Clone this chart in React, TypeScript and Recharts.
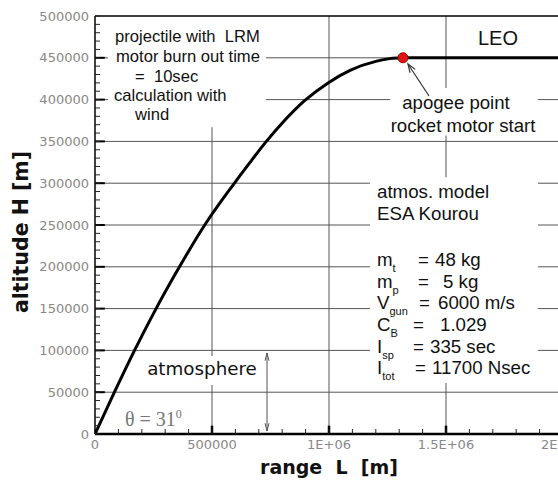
import React from "react";
import {
    LineChart,
    Line,
    XAxis,
    YAxis,
    CartesianGrid,
    ReferenceArea,
    ReferenceLine,
    ReferenceDot,
} from "recharts";

// trajectory: range L [m] vs altitude H [m]
const rangeL = [0, 83000, 169000, 261000, 361000, 469000, 589000, 660000, 728000, 810000, 897000, 996000, 1090000, 1204000, 1260000, 1316000];
const altitudeH = [0, 50000, 100000, 150000, 200000, 250000, 297500, 324000, 348500, 375000, 399000, 420000, 435000, 446000, 449000, 450000];

// LEO branch after the apogee
const leoL = [1316000, 2000000];
const leoH = [450000, 450000];

const apogee = { L: 1316000, H: 450000 };

const xMajor = [0, 500000, 1000000, 1500000, 2000000];
const xMajorLabels = ["0", "500000", "1E+06", "1.5E+06", "2E+06"];
const yMajor = [0, 50000, 100000, 150000, 200000, 250000, 300000, 350000, 400000, 450000, 500000];
const yMajorLabels = ["0", "50000", "100000", "150000", "200000", "250000", "300000", "350000", "400000", "450000", "500000"];

const xMinor = Array.from({ length: 21 }, (_, i) => i * 100000);
const yMinor = Array.from({ length: 51 }, (_, i) => i * 10000);

const trajectory = rangeL.map((L, i) => ({ L, H: altitudeH[i] }));
const leo = leoL.map((L, i) => ({ L, H: leoH[i] }));

const sans = "'Liberation Sans', Arial, sans-serif";
const dejavu = "'DejaVu Sans', sans-serif";

function xLabel(v: number) {
    const i = xMajor.indexOf(v);
    return i >= 0 ? xMajorLabels[i] : "";
}
function yLabel(v: number) {
    const i = yMajor.indexOf(v);
    return i >= 0 ? yMajorLabels[i] : "";
}

function T({ x, y, size, anchor = "start", font = sans, color = "#111", children, style }: any) {
    const lh = size * 1.2;
    return (
        <div
            style={{
                position: "absolute",
                left: x,
                top: y - lh / 2,
                fontSize: size,
                lineHeight: `${lh}px`,
                fontFamily: font,
                color,
                whiteSpace: "pre",
                transform: anchor === "middle" ? "translateX(-50%)" : undefined,
                ...style,
            }}
        >
            {children}
        </div>
    );
}

function arrowHead(hx: number, hy: number, tx: number, ty: number, len: number, spread: number) {
    const a = Math.atan2(ty - hy, tx - hx);
    const p1 = [hx + len * Math.cos(a + spread), hy + len * Math.sin(a + spread)];
    const p2 = [hx + len * Math.cos(a - spread), hy + len * Math.sin(a - spread)];
    return `M${p1[0]},${p1[1]} L${hx},${hy} L${p2[0]},${p2[1]}`;
}

const sub = { fontSize: 11, verticalAlign: "-6px" };

const params = [
    { name: "m", s: "t", eq: 418, val: "48 kg", vx: 435, y: 260 },
    { name: "m", s: "p", eq: 418, val: "5 kg", vx: 443, y: 282 },
    { name: "V", s: "gun", eq: 419, val: "6000 m/s", vx: 438, y: 303 },
    { name: "C", s: "B", eq: 413, val: "1.029", vx: 440, y: 325 },
    { name: "I", s: "sp", eq: 413, val: "335 sec", vx: 430, y: 347 },
    { name: "I", s: "tot", eq: 415, val: "11700 Nsec", vx: 432, y: 368 },
];

export default function App() {
    return (
        <div style={{ position: "fixed", left: 0, top: 0, width: 558, height: 481, overflow: "hidden", background: "#fff" }}>
            <LineChart width={575} height={481} margin={{ top: 16, right: 12, left: 0, bottom: 0 }}>
                <CartesianGrid
                    horizontalValues={yMajor.slice(1, 10)}
                    verticalValues={[500000, 1000000, 1500000]}
                    stroke="#555"
                    strokeWidth={1}
                />
                <XAxis
                    type="number"
                    dataKey="L"
                    domain={[0, 2000000]}
                    ticks={xMinor}
                    interval={0}
                    tickFormatter={xLabel}
                    height={47}
                    tickSize={-5}
                    tickMargin={11}
                    axisLine={{ stroke: "#000", strokeWidth: 2.5 }}
                    tickLine={{ stroke: "#222" }}
                    tick={{ fill: "#888", fontSize: 13, fontFamily: dejavu }}
                    allowDataOverflow
                />
                <YAxis
                    type="number"
                    dataKey="H"
                    domain={[0, 500000]}
                    ticks={yMinor}
                    interval={0}
                    tickFormatter={yLabel}
                    width={95}
                    tickSize={-5}
                    tickMargin={11}
                    axisLine={{ stroke: "#000", strokeWidth: 1.5 }}
                    tickLine={{ stroke: "#222" }}
                    tick={{ fill: "#888", fontSize: 13, fontFamily: dejavu }}
                    allowDataOverflow
                />
                {/* white backgrounds behind the annotation texts */}
                <ReferenceArea x1={56000} x2={731000} y1={367000} y2={500000} fill="#fff" fillOpacity={1} stroke="none" />
                <ReferenceArea x1={1261000} x2={1893000} y1={357000} y2={414000} fill="#fff" fillOpacity={1} stroke="none" />
                <ReferenceArea x1={1175000} x2={1893000} y1={61000} y2={307000} fill="#fff" fillOpacity={1} stroke="none" />
                <ReferenceArea x1={214000} x2={705000} y1={58600} y2={93300} fill="#fff" fillOpacity={1} stroke="none" />
                {/* frame top and heavy major ticks */}
                <ReferenceLine y={500000} stroke="#000" strokeWidth={1.5} />
                {[500000, 1000000, 1500000].map((v) => (
                    <ReferenceLine key={"xt" + v} segment={[{ x: v, y: 0 }, { x: v, y: 10000 }]} stroke="#000" strokeWidth={2.5} />
                ))}
                {yMajor.slice(1, 10).map((v) => (
                    <ReferenceLine key={"yt" + v} segment={[{ x: 0, y: v }, { x: 42000, y: v }]} stroke="#000" strokeWidth={2} />
                ))}
                <Line data={trajectory} dataKey="H" type="monotone" stroke="#000" strokeWidth={3} dot={false} isAnimationActive={false} />
                <Line data={leo} dataKey="H" type="linear" stroke="#000" strokeWidth={3} dot={false} isAnimationActive={false} />
                <ReferenceDot x={apogee.L} y={apogee.H} r={5} fill="#e01515" stroke="#a00000" strokeWidth={1} />
            </LineChart>

            <svg width={558} height={481} style={{ position: "absolute", left: 0, top: 0, pointerEvents: "none" }}>
                <line x1={429} y1={96} x2={408} y2={64} stroke="#333" strokeWidth={1.2} />
                <path d={arrowHead(408, 64, 429, 96, 9, 0.35)} fill="none" stroke="#333" strokeWidth={1.2} />
                <line x1={267} y1={353} x2={267} y2={431} stroke="#555" strokeWidth={1} />
                <path d={arrowHead(267, 353, 267, 431, 8, 0.25)} fill="none" stroke="#555" strokeWidth={1} />
                <path d={arrowHead(267, 431, 267, 353, 8, 0.25)} fill="none" stroke="#555" strokeWidth={1} />
            </svg>

            <T x={115} y={37} size={16.6}>projectile with  LRM</T>
            <T x={116} y={57} size={16.6}>motor burn out time</T>
            <T x={135} y={77} size={16.6}>=  10sec</T>
            <T x={114} y={96} size={16.6}>calculation with</T>
            <T x={135} y={115} size={16.6}>wind</T>

            <T x={498} y={38} size={20} anchor="middle">LEO</T>
            <T x={456} y={103} size={18.6} anchor="middle">apogee point</T>
            <T x={463} y={126} size={18.6} anchor="middle">rocket motor start</T>

            <T x={377} y={192} size={18.7}>atmos. model</T>
            <T x={377} y={214} size={18.7}>ESA Kourou</T>
            {params.map((p) => (
                <React.Fragment key={p.name + p.s}>
                    <T x={377} y={p.y} size={18.7}>
                        {p.name}
                        <span style={sub}>{p.s}</span>
                    </T>
                    <T x={p.eq} y={p.y} size={18.7}>=</T>
                    <T x={p.vx} y={p.y} size={18.7}>{p.val}</T>
                </React.Fragment>
            ))}

            <T x={202} y={369} size={18.3} anchor="middle" font={dejavu}>atmosphere</T>
            <T x={125} y={414} size={20} font="'Liberation Serif', serif" color="#777">
                θ = 31<span style={{ fontSize: 12, verticalAlign: "8px" }}>0</span>
            </T>

            <div
                style={{
                    position: "absolute",
                    left: 21,
                    top: 232,
                    transform: "translate(-50%, -50%) rotate(-90deg)",
                    fontFamily: dejavu,
                    fontWeight: "bold",
                    fontSize: 20.5,
                    whiteSpace: "pre",
                    color: "#111",
                }}
            >
                altitude H [m]
            </div>
            <T x={329} y={467} size={19} anchor="middle" font={dejavu} style={{ fontWeight: "bold" }}>
                range  L  [m]
            </T>
        </div>
    );
}
